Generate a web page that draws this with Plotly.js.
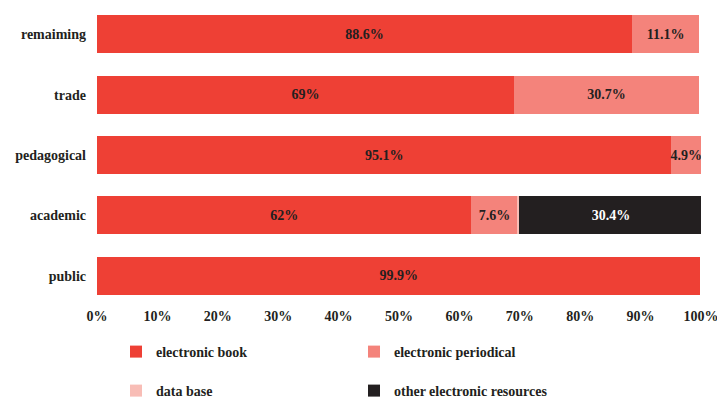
<!DOCTYPE html>
<html><head><meta charset="utf-8">
<script src="https://cdn.plot.ly/plotly-3.0.1.min.js"></script>
<style>html,body{margin:0;padding:0;background:#fff}#chart{width:717px;height:399px}</style>
</head><body><div id="chart"></div>
<script>
const categories = ["public", "academic", "pedagogical", "trade", "remaiming"];
const seriesNames = ["electronic book", "electronic periodical", "data base", "other electronic resources"];
const ebook = [99.9, 62, 95.1, 69, 88.6];
const periodical = [0, 7.6, 4.9, 30.7, 11.1];
const database = [0, 0.3, 0, 0, 0];
const other = [0, 30.4, 0, 0, 0];
const tickVals = [0, 10, 20, 30, 40, 50, 60, 70, 80, 90, 100];

const colors = ["#ee4035", "#f4837b", "#f8bdb6", "#231f20"];
const textColors = ["#231f20", "#231f20", "#231f20", "#ffffff"];
const FONT = "Liberation Serif, Times New Roman, serif";
const all = [ebook, periodical, database, other];
const legends = ["legend", "legend", "legend2", "legend2"];

const traces = all.map((vals, i) => ({
  type: "bar", orientation: "h",
  name: seriesNames[i], y: categories, x: vals,
  marker: {color: colors[i], line: {width: 0}},
  text: vals.map(v => v > 1 ? v + "%" : ""),
  textposition: "inside", insidetextanchor: "middle",
  constraintext: "none", textangle: 0,
  textfont: {family: FONT, size: 14, color: textColors[i], weight: "bold"},
  hoverinfo: "skip",
  legend: legends[i]
}));

const legendCommon = {
  orientation: "h", xref: "container", x: 116 / 717, xanchor: "left",
  yref: "container", yanchor: "middle",
  entrywidth: 193, entrywidthmode: "pixels", traceorder: "normal",
  font: {family: FONT, size: 14, color: "#231f20", weight: "bold"}, itemwidth: 30
};

const layout = {
  width: 717, height: 399,
  margin: {l: 97, r: 16, t: 4, b: 93},
  barmode: "stack", bargap: 0.37,
  paper_bgcolor: "#fff", plot_bgcolor: "#fff",
  font: {family: FONT, size: 14, color: "#231f20", weight: "bold"},
  xaxis: {range: [0, 100], tickvals: tickVals, ticktext: tickVals.map(v => v + "%"),
          showgrid: false, zeroline: false, showline: false, ticks: "", fixedrange: true,
          ticklabeloverflow: "allow", automargin: false,
          tickfont: {family: FONT, size: 14, color: "#231f20", weight: "bold"}},
  yaxis: {categoryorder: "array", categoryarray: categories, showgrid: false, zeroline: false,
          showline: false, ticks: "", ticklabelstandoff: 10, automargin: false,
          tickfont: {family: FONT, size: 14, color: "#231f20", weight: "bold"}},
  showlegend: true,
  legend: Object.assign({}, legendCommon, {y: 1 - 352 / 399}),
  legend2: Object.assign({}, legendCommon, {y: 1 - 391 / 399})
};
Plotly.newPlot("chart", traces, layout, {displayModeBar: false, staticPlot: true});
</script></body></html>
